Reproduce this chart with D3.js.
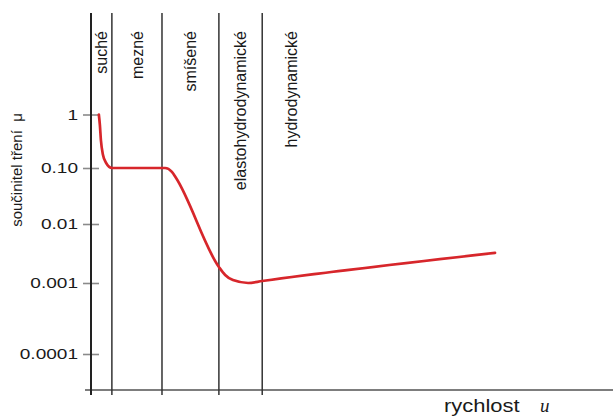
<!DOCTYPE html>
<html>
<head>
<meta charset="utf-8">
<script src="https://cdn.jsdelivr.net/npm/d3@7"></script>
<style>
  html, body { margin: 0; padding: 0; background: #fff; }
  svg { display: block; }
  text { font-family: "Liberation Sans", Arial, sans-serif; }
</style>
</head>
<body>
<svg id="chart" width="613" height="417"></svg>
<script>
// ---- data ----
const regimeNames = ["suché", "mezné", "smíšené", "elastohydrodynamické", "hydrodynamické"];
// speed (arbitrary units) at which each regime begins; last value = end of the hydrodynamic label band
const regimeBounds = [0, 4.0, 13.6, 24.5, 32.8, 43.9];
// Stribeck curve: speed u vs. friction coefficient μ
const speed    = [1.5, 1.7, 1.9, 2.3, 2.9, 4.0, 14.2, 15.5, 16.3, 24.5, 25.7, 27.2, 30.1, 32.8, 77.4];
const friction = [1.0, 0.64, 0.33, 0.175, 0.124, 0.1, 0.1, 0.085, 0.066, 0.00187, 0.00137, 0.00112, 0.001, 0.00108, 0.00323];
const yTickValues = [1, 0.1, 0.01, 0.001, 0.0001];
const yTickLabels = ["1", "0.10", "0.01", "0.001", "0.0001"];
const yTitle = "součinitel tření\u00a0\u00a0μ";
const xTitle = "rychlost";
const xSymbol = "u";

// ---- layout ----
const W = 613, H = 417;
const plotTop = 13, plotBottom = 395, axisY = 390;
const svg = d3.select("#chart");

const x = d3.scaleLinear().domain([0, 100]).range([91, 613]);
// the original figure's decades are not evenly spaced: piecewise log scale
const y = d3.scaleLog()
  .domain([1e-4, 1e-3, 1e-2, 1e-1, 1])
  .range([354, 283, 224, 168, 114.5]);

// y axis ticks + labels
const yAxis = d3.axisLeft(y)
  .tickValues(yTickValues)
  .tickFormat((d, i) => yTickLabels[i])
  .tickSizeInner(8)
  .tickSizeOuter(0)
  .tickPadding(5);
const gy = svg.append("g").attr("transform", `translate(${x(0)},0)`).call(yAxis);
gy.select(".domain").remove();
gy.selectAll(".tick line").attr("x1", -8).attr("x2", 8)
  .attr("stroke", "#8a8a8a").attr("stroke-width", 1.6);
gy.selectAll(".tick text")
  .attr("fill", "#1a1a1a")
  .style("font-size", "15px")
  .style("font-family", "'Liberation Sans', Arial, sans-serif")
  .each(function () {
    const w = this.getComputedTextLength();
    d3.select(this).attr("textLength", w * 1.27).attr("lengthAdjust", "spacingAndGlyphs");
  });

// x axis line (grey)
svg.append("line")
  .attr("x1", x(0) - 6).attr("x2", W)
  .attr("y1", axisY).attr("y2", axisY)
  .attr("stroke", "#7d7d7d").attr("stroke-width", 2);

// regime boundary lines
svg.append("g").selectAll("line")
  .data(regimeBounds.slice(1, regimeNames.length))
  .join("line")
  .attr("x1", d => x(d)).attr("x2", d => x(d))
  .attr("y1", plotTop).attr("y2", plotBottom)
  .attr("stroke", "#333").attr("stroke-width", 1.5);

// y axis line
svg.append("line")
  .attr("x1", x(0)).attr("x2", x(0))
  .attr("y1", plotTop).attr("y2", plotBottom)
  .attr("stroke", "#222").attr("stroke-width", 2);

// regime labels
svg.append("g").selectAll("text")
  .data(regimeNames)
  .join("text")
  .attr("transform", (d, i) => `translate(${x((regimeBounds[i] + regimeBounds[i + 1]) / 2)},31) rotate(-90)`)
  .attr("text-anchor", "end")
  .attr("dy", "0.35em")
  .attr("fill", "#1a1a1a")
  .style("font-size", "16px")
  .text(d => d);

// curve
const pts = speed.map((s, i) => [s, friction[i]]);
svg.append("path")
  .datum(pts)
  .attr("fill", "none")
  .attr("stroke", "#d7262b")
  .attr("stroke-width", 2.7)
  .attr("stroke-linecap", "round")
  .attr("d", d3.line().x(d => x(d[0])).y(d => y(d[1])).curve(d3.curveMonotoneX));

// y title
svg.append("text")
  .attr("transform", `translate(17,170) rotate(-90)`)
  .attr("text-anchor", "middle")
  .attr("dy", "0.35em")
  .attr("fill", "#1a1a1a")
  .style("font-size", "15px")
  .text(yTitle);

// x title
const xt = svg.append("text")
  .attr("x", 444).attr("y", 412)
  .attr("fill", "#1a1a1a")
  .style("font-size", "18px")
  .text(xTitle);
xt.attr("textLength", xt.node().getComputedTextLength() * 1.22).attr("lengthAdjust", "spacingAndGlyphs");
svg.append("text")
  .attr("x", 540).attr("y", 412)
  .attr("fill", "#1a1a1a")
  .style("font-family", "'Liberation Serif', 'Times New Roman', serif")
  .style("font-style", "italic")
  .style("font-size", "19px")
  .text(xSymbol);
</script>
</body>
</html>
